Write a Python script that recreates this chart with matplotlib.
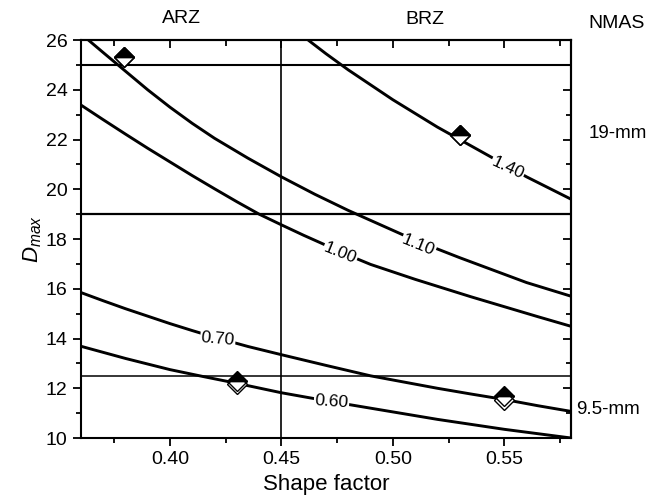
import matplotlib.pyplot as plt
from matplotlib.ticker import MultipleLocator, NullFormatter
import matplotlib.transforms as mtransforms

plt.rcParams['font.family'] = ['Liberation Sans', 'DejaVu Sans']
plt.rcParams['mathtext.fontset'] = 'custom'
plt.rcParams['mathtext.it'] = 'Liberation Sans:italic'
plt.rcParams['mathtext.rm'] = 'Liberation Sans'

# contour lines (shape factor, Dmax)
sf_140 = [0.462, 0.47, 0.48, 0.49, 0.50, 0.51, 0.52, 0.53, 0.54, 0.55, 0.56, 0.57, 0.58]
d_140 = [26.0, 25.45, 24.8, 24.2, 23.6, 23.05, 22.5, 22.0, 21.5, 21.0, 20.5, 20.05, 19.6]

sf_110 = [0.3634, 0.37, 0.38, 0.39, 0.40, 0.41, 0.42, 0.435, 0.45, 0.465, 0.48, 0.495,
          0.51, 0.53, 0.545, 0.56, 0.58]
d_110 = [26.0, 25.5, 24.75, 24.0, 23.3, 22.65, 22.05, 21.25, 20.5, 19.8, 19.15, 18.55,
         17.95, 17.25, 16.75, 16.25, 15.7]

sf_100 = [0.36, 0.37, 0.38, 0.39, 0.40, 0.41, 0.42, 0.43, 0.44, 0.45, 0.46, 0.47, 0.48,
          0.49, 0.50, 0.51, 0.52, 0.535, 0.55, 0.565, 0.58]
d_100 = [23.39, 22.8, 22.22, 21.65, 21.1, 20.55, 20.02, 19.5, 19.0, 18.57, 18.15, 17.75,
         17.35, 16.98, 16.68, 16.38, 16.1, 15.68, 15.28, 14.88, 14.49]

sf_070 = [0.36, 0.37, 0.38, 0.39, 0.40, 0.41, 0.42, 0.435, 0.45, 0.47, 0.49, 0.505,
          0.52, 0.535, 0.55, 0.565, 0.58]
d_070 = [15.85, 15.52, 15.2, 14.9, 14.6, 14.32, 14.05, 13.68, 13.35, 12.92, 12.5, 12.25,
         12.0, 11.77, 11.55, 11.3, 11.07]

sf_060 = [0.36, 0.38, 0.40, 0.415, 0.43, 0.45, 0.465, 0.48, 0.50, 0.52, 0.55, 0.58]
d_060 = [13.69, 13.2, 12.75, 12.47, 12.2, 11.82, 11.58, 11.35, 11.05, 10.75, 10.35, 10.0]

curves = [(sf_140, d_140), (sf_110, d_110), (sf_100, d_100), (sf_070, d_070), (sf_060, d_060)]

# contour labels: text, position, rotation
lab_text = ['1.40', '1.10', '1.00', '0.70', '0.60']
lab_sf = [0.5515, 0.5115, 0.4765, 0.4215, 0.4725]
lab_d = [20.85, 17.75, 17.45, 13.98, 11.45]
lab_rot = [-25, -22, -22, -5, -4]

# measured points
mark_sf = [0.3795, 0.530, 0.430, 0.550]
filled_d = [25.33, 22.18, 12.30, 11.68]
open_d = [25.33, 22.18, 12.17, 11.54]

# NMAS limits
nmas_lines = [25, 19, 12.5]
nmas_lw = [1.5, 1.6, 1.1]
zone_sf = 0.45

fig = plt.figure(figsize=(6.49, 4.99), dpi=100)
ax = fig.add_axes([0.1245, 0.1222, 0.7555, 0.7976])

for sf, d in curves:
    ax.plot(sf, d, color='black', lw=2.1, solid_capstyle='butt', solid_joinstyle='round', zorder=3)

for t, x, y, r in zip(lab_text, lab_sf, lab_d, lab_rot):
    ax.text(x, y, t, rotation=r, rotation_mode='anchor', ha='center', va='center',
            fontsize=12.5, zorder=4,
            bbox=dict(boxstyle='square,pad=0.05', fc='white', ec='none'))

for y, lw in zip(nmas_lines, nmas_lw):
    ax.axhline(y, color='black', lw=lw, zorder=2)
ax.axvline(zone_sf, color='black', lw=1.2, zorder=2)

ax.plot(mark_sf, open_d, 'D', ms=10.5, mfc='white', mec='black', mew=1.0, zorder=5)
ax.plot(mark_sf, filled_d, 'D', ms=10.5, fillstyle='top', mfc='black',
        markerfacecoloralt='none', mec='black', mew=1.0, zorder=6)

ax.set_xlim(0.36, 0.58)
ax.set_ylim(10, 26)
ax.xaxis.set_major_locator(MultipleLocator(0.05))
ax.xaxis.set_minor_locator(MultipleLocator(0.025))
ax.yaxis.set_major_locator(MultipleLocator(2))
ax.yaxis.set_minor_locator(MultipleLocator(1))
ax.xaxis.set_major_formatter(plt.FuncFormatter(lambda v, p: '%.2f' % v if v > 0.37 else ''))
ax.tick_params(which='major', direction='out', length=6, width=1.3, labelsize=14)
ax.tick_params(which='minor', direction='out', length=3.5, width=1.3)
for s in ax.spines.values():
    s.set_linewidth(1.5)

top = ax.secondary_xaxis('top')
top.xaxis.set_major_locator(MultipleLocator(0.05))
top.xaxis.set_minor_locator(MultipleLocator(0.025))
top.xaxis.set_major_formatter(NullFormatter())
top.tick_params(which='major', direction='in', length=6, width=1.3)
top.tick_params(which='minor', direction='in', length=4, width=1.3)
top.spines['top'].set_linewidth(1.5)

right = ax.secondary_yaxis('right')
right.yaxis.set_major_locator(MultipleLocator(2))
right.yaxis.set_minor_locator(MultipleLocator(1))
right.yaxis.set_major_formatter(NullFormatter())
right.tick_params(which='major', direction='in', length=6, width=1.3)
right.tick_params(which='minor', direction='in', length=3.5, width=1.3)
right.spines['right'].set_linewidth(1.5)

ax.set_xlabel('Shape factor', fontsize=16, labelpad=4)
ax.set_ylabel('$D_{max}$', fontsize=16, labelpad=1)

trans = mtransforms.blended_transform_factory(ax.transData, fig.transFigure)
ax.text(0.405, 0.963, 'ARZ', transform=trans, ha='center', va='center', fontsize=14)
ax.text(0.5145, 0.96, 'BRZ', transform=trans, ha='center', va='center', fontsize=14)
fig.text(0.95, 0.953, 'NMAS', ha='center', va='center', fontsize=14)
ax.text(1.095, 22.25, '19-mm', transform=mtransforms.blended_transform_factory(ax.transAxes, ax.transData),
        ha='center', va='center', fontsize=13.5)
ax.text(1.075, 11.14, '9.5-mm', transform=mtransforms.blended_transform_factory(ax.transAxes, ax.transData),
        ha='center', va='center', fontsize=13.5)

fig.savefig('out.png', dpi=100)
